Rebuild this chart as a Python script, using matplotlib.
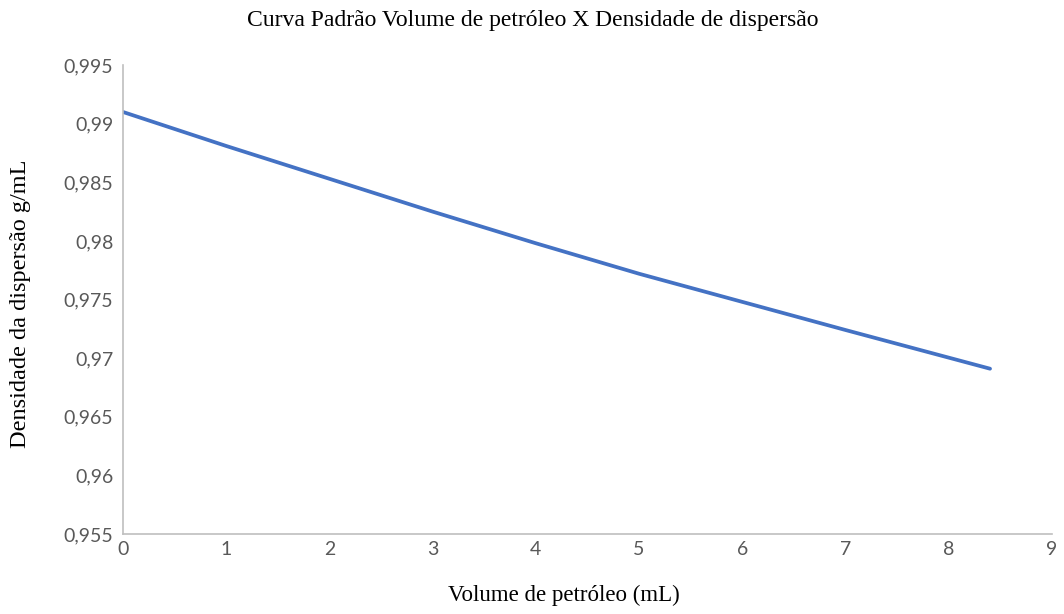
import matplotlib
matplotlib.use('Agg')
import matplotlib.pyplot as plt

# dados
volume = [0, 1, 2, 3, 4, 5, 6, 7, 8.4]
densidade = [0.991, 0.9881, 0.9853, 0.9825, 0.9798, 0.9772, 0.9748, 0.9724, 0.9691]
x_ticks = [0, 1, 2, 3, 4, 5, 6, 7, 8, 9]
y_ticks = [0.955, 0.96, 0.965, 0.97, 0.975, 0.98, 0.985, 0.99, 0.995]
y_tick_labels = ['0,955', '0,96', '0,965', '0,97', '0,975', '0,98', '0,985', '0,99', '0,995']

fig = plt.figure(figsize=(10.64, 6.14), dpi=100)
ax = fig.add_axes([0.1156, 0.1303, 0.8731, 0.7637])

ax.plot(volume, densidade, color='#4472C4', linewidth=2.7, solid_capstyle='round')

ax.set_xlim(0, 9)
ax.set_ylim(0.955, 0.995)
ax.set_xticks(x_ticks)
ax.set_xticklabels([str(t) for t in x_ticks])
ax.set_yticks(y_ticks)
ax.set_yticklabels(y_tick_labels)

for lbl in ax.get_xticklabels() + ax.get_yticklabels():
    lbl.set_fontfamily('Lato')
    lbl.set_fontsize(14)
    lbl.set_color('#595959')

ax.tick_params(length=0)
ax.tick_params(axis='x', pad=5)
ax.tick_params(axis='y', pad=7)

for side in ['top', 'right']:
    ax.spines[side].set_visible(False)
for side in ['left', 'bottom']:
    ax.spines[side].set_color('#BFBFBF')
    ax.spines[side].set_linewidth(1.2)

serif = 'Liberation Serif'
fig.text(0.501, 0.966, 'Curva Padrão Volume de petróleo X Densidade de dispersão',
         ha='center', va='center', fontsize=17, family=serif)
fig.text(0.530, 0.03, 'Volume de petróleo (mL)',
         ha='center', va='center', fontsize=16.5, family=serif)
fig.text(0.0195, 0.505, 'Densidade da dispersão g/mL', rotation=90,
         ha='center', va='center', fontsize=17.5, family=serif)

fig.savefig('out.png', dpi=100, facecolor='white')
